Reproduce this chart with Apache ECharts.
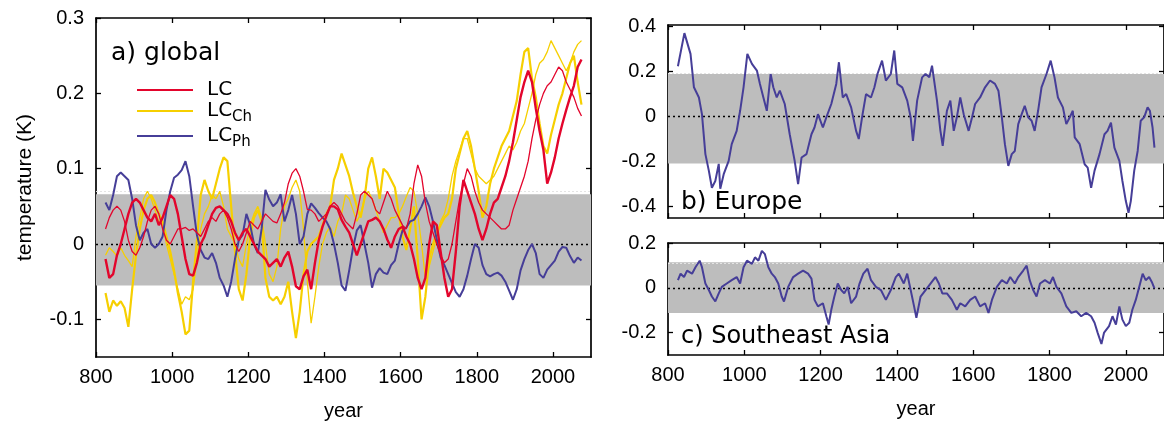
<!DOCTYPE html>
<html>
<head>
<meta charset="utf-8">
<script src="https://cdn.jsdelivr.net/npm/echarts@6/dist/echarts.min.js"></script>
<style>
  html, body { margin: 0; padding: 0; background: #fff; }
  #chart { width: 1164px; height: 426px; }
</style>
</head>
<body>
<div id="chart"></div>
<script>
// global panel: years (10-year steps)
const years = [
  825, 835, 845, 855, 865, 875, 885, 895, 905, 915,
  925, 935, 945, 955, 965, 975, 985, 995, 1005, 1015,
  1025, 1035, 1045, 1055, 1065, 1075, 1085, 1095, 1105, 1115,
  1125, 1135, 1145, 1155, 1165, 1175, 1185, 1195, 1205, 1215,
  1225, 1235, 1245, 1255, 1265, 1275, 1285, 1295, 1305, 1315,
  1325, 1335, 1345, 1355, 1365, 1375, 1385, 1395, 1405, 1415,
  1425, 1435, 1445, 1455, 1465, 1475, 1485, 1495, 1505, 1515,
  1525, 1535, 1545, 1555, 1565, 1575, 1585, 1595, 1605, 1615,
  1625, 1635, 1645, 1655, 1665, 1675, 1685, 1695, 1705, 1715,
  1725, 1735, 1745, 1755, 1765, 1775, 1785, 1795, 1805, 1815,
  1825, 1835, 1845, 1855, 1865, 1875, 1885, 1895, 1905, 1915,
  1925, 1935, 1945, 1955, 1965, 1975, 1985, 1995, 2005, 2015,
  2025, 2035, 2045, 2055, 2065, 2075
];

// LC, thick run
const lcA = [
  -0.02, -0.045, -0.04, -0.015, 0.0, 0.02, 0.04, 0.055, 0.06, 0.055,
  0.045, 0.035, 0.03, 0.04, 0.025, 0.035, 0.05, 0.065, 0.06, 0.04,
  0.01, -0.02, -0.04, -0.042, -0.025, 0.0, 0.01, 0.025, 0.04, 0.048,
  0.05, 0.045, 0.04, 0.03, 0.015, 0.005, 0.015, 0.02, 0.01, 0.0,
  -0.01, -0.015, -0.02, -0.03, -0.025, -0.02, -0.03, -0.018, -0.01, -0.03,
  -0.056, -0.06, -0.043, -0.034, -0.06, -0.025, 0.005, 0.023, 0.037, 0.05,
  0.05, 0.046, 0.032, 0.023, 0.015, 0.0, -0.015, 0.0, 0.015, 0.03,
  0.032, 0.035, 0.03, 0.02, 0.006, -0.005, 0.01, 0.02, 0.023, 0.01,
  0.0, -0.02, -0.045, -0.06, -0.045, 0.0, 0.03, 0.025, -0.01, -0.045,
  -0.07, -0.06, -0.01, 0.05, 0.085, 0.07, 0.055, 0.04, 0.02, 0.005,
  0.02, 0.04, 0.055, 0.06, 0.075, 0.09, 0.11, 0.135, 0.165, 0.195,
  0.215, 0.23, 0.215, 0.18, 0.15, 0.125, 0.08, 0.095, 0.115, 0.14,
  0.16, 0.178, 0.195, 0.21, 0.235, 0.245
];

// LC, thin run
const lcB = [
  0.02, 0.035, 0.045, 0.05, 0.045, 0.03, 0.005, -0.01, -0.015, -0.005,
  0.01, 0.03, 0.045, 0.05, 0.04, 0.02, 0.005, 0.0, 0.01, 0.02,
  0.02, 0.022, 0.018, 0.02, 0.015, 0.01, 0.02, 0.03, 0.035, 0.03,
  0.04, 0.045, 0.035, 0.02, 0.0, -0.01, 0.0, 0.015, 0.03, 0.025,
  0.02, 0.03, 0.04, 0.035, 0.03, 0.028, 0.04, 0.055, 0.08, 0.094,
  0.1, 0.09, 0.07, 0.046, 0.045, 0.04, 0.03, 0.035, 0.04, 0.05,
  0.055, 0.05, 0.04, 0.03, 0.025, 0.02, 0.04, 0.065, 0.07, 0.065,
  0.06, 0.045, 0.04, 0.055, 0.07, 0.06, 0.045, 0.035, 0.025, 0.02,
  0.04, 0.08, 0.105, 0.09, 0.055, 0.03, 0.015, 0.0, -0.015, -0.025,
  -0.02, 0.0, 0.03, 0.06, 0.08, 0.1, 0.09, 0.07, 0.055, 0.045,
  0.04, 0.035, 0.03, 0.025, 0.02, 0.02, 0.025, 0.045, 0.06, 0.075,
  0.09, 0.11, 0.14, 0.165, 0.185, 0.2, 0.21, 0.215, 0.225, 0.235,
  0.23, 0.215, 0.205, 0.195, 0.18, 0.17
];

// LC_Ch, thick run
const lcChA = [
  -0.065, -0.09, -0.075, -0.082, -0.076, -0.085, -0.11, -0.06, -0.015, 0.02,
  0.045, 0.06, 0.065, 0.055, 0.04, 0.03, 0.01, -0.01, -0.035, -0.065,
  -0.09, -0.12, -0.115, -0.05, 0.005, 0.065, 0.085, 0.07, 0.06, 0.08,
  0.1, 0.115, 0.11, 0.05, -0.01, -0.06, -0.075, -0.04, 0.01, 0.035,
  0.045, 0.03, -0.045, -0.07, -0.075, -0.07, -0.08, -0.07, -0.05, -0.09,
  -0.125, -0.09, -0.04, -0.01, 0.0, 0.005, 0.01, 0.025, 0.04, 0.05,
  0.085, 0.1, 0.12, 0.105, 0.09, 0.068, 0.05, 0.035, 0.06, 0.1,
  0.115, 0.09, 0.06, 0.1, 0.095, 0.085, 0.075, 0.04, 0.01, -0.008,
  0.02, 0.05, -0.02, -0.1, -0.07, -0.02, 0.0, 0.015, 0.025, 0.035,
  0.04, 0.06, 0.1, 0.12, 0.14, 0.15, 0.13, 0.1, 0.07, 0.035,
  0.05, 0.08, 0.1, 0.115, 0.13, 0.14, 0.15, 0.17, 0.19, 0.225,
  0.255, 0.26, 0.22, 0.195, 0.16, 0.13, 0.12, 0.145, 0.165, 0.185,
  0.2, 0.22, 0.24, 0.25, 0.215, 0.185
];

// LC_Ch, thin run
const lcChB = [
  -0.015, -0.005, -0.01, -0.016, -0.005, -0.015, -0.022, -0.03, 0.01, 0.035,
  0.06, 0.07, 0.06, 0.045, 0.03, 0.025, 0.0, -0.02, -0.04, -0.06,
  -0.08, -0.07, -0.074, -0.06, -0.02, 0.02, 0.04, 0.05, 0.065, 0.06,
  0.07, 0.05, 0.02, 0.01, 0.0, -0.02, -0.03, 0.0, 0.025, 0.04,
  0.05, 0.035, 0.0, -0.04, -0.05, -0.03, 0.02, 0.05, 0.06, 0.075,
  0.085, 0.07, 0.02, -0.05, -0.105, -0.07, -0.03, 0.0, 0.015, 0.023,
  0.01, 0.03, 0.04, 0.065, 0.06, 0.045, 0.03, 0.04, 0.06, 0.07,
  0.06, 0.045, 0.03, 0.015, 0.025, 0.035, 0.035, 0.04, 0.05, 0.063,
  0.075, 0.07, 0.04, 0.0, -0.045, -0.03, -0.01, 0.01, 0.03, 0.04,
  0.06, 0.09, 0.11, 0.125, 0.14, 0.14, 0.12, 0.1, 0.09, 0.085,
  0.08, 0.085, 0.09, 0.1, 0.11, 0.12, 0.13, 0.125, 0.135, 0.15,
  0.16, 0.18, 0.2, 0.225, 0.24, 0.245, 0.255, 0.27, 0.26, 0.25,
  0.24, 0.23, 0.24, 0.255, 0.265, 0.27
];

// LC_Ph
const lcPh = [
  0.055, 0.045, 0.065, 0.09, 0.095, 0.09, 0.085, 0.06, 0.025, 0.005,
  0.015, 0.02, 0.0, -0.005, 0.0, 0.01, 0.045, 0.07, 0.088, 0.092,
  0.098, 0.11, 0.09, 0.05, 0.012, -0.008, -0.018, -0.02, -0.012, -0.025,
  -0.045, -0.055, -0.07, -0.05, -0.02, 0.005, 0.012, 0.04, 0.025, 0.0,
  -0.012, 0.02, 0.072, 0.059, 0.05, 0.055, 0.066, 0.03, 0.045, 0.065,
  0.04, 0.0, 0.01, 0.04, 0.054, 0.048, 0.041, 0.035, 0.03, 0.02,
  0.0, -0.025, -0.055, -0.062, -0.035, -0.005, 0.018, 0.025, 0.0, -0.025,
  -0.058, -0.04, -0.032, -0.038, -0.04, -0.028, -0.022, 0.0, 0.018, 0.022,
  0.03, 0.032, 0.04, 0.05, 0.062, 0.05, 0.03, 0.006, -0.018, -0.028,
  -0.04, -0.052, -0.064, -0.07, -0.06, -0.042, -0.02, 0.0, -0.005, -0.028,
  -0.04, -0.043, -0.04, -0.038, -0.042, -0.05, -0.062, -0.074, -0.06, -0.035,
  -0.02, -0.008, 0.0, -0.012, -0.04, -0.045, -0.034, -0.028, -0.022, -0.01,
  -0.004, -0.005, -0.016, -0.025, -0.018, -0.022
];

// Europe
const eurYears = [
  826, 843, 859, 868, 881, 889, 898, 907, 915, 924, 933, 937, 946, 959, 967, 980, 989, 998,
  1008, 1020, 1033, 1041, 1050, 1059, 1069, 1076, 1085, 1093, 1106, 1119, 1132, 1141, 1150,
  1163, 1176, 1184, 1193, 1206, 1215, 1228, 1241, 1248, 1258, 1267, 1280, 1293, 1300, 1310,
  1319, 1332, 1341, 1349, 1361, 1371, 1384, 1393, 1401, 1414, 1427, 1436, 1442, 1453, 1466,
  1475, 1485, 1492, 1505, 1514, 1520, 1531, 1540, 1549, 1557, 1566, 1575, 1588, 1597, 1605,
  1618, 1631, 1644, 1657, 1666, 1675, 1683, 1692, 1701, 1709, 1718, 1727, 1735, 1744, 1753,
  1761, 1770, 1779, 1792, 1803, 1813, 1822, 1835, 1844, 1853, 1861, 1866, 1879, 1892, 1900,
  1909, 1918, 1931, 1944, 1952, 1961, 1970, 1983, 1991, 2000, 2007, 2013, 2022, 2031, 2039,
  2048, 2057, 2063, 2070, 2075
];
const eurTemp = [
  0.222, 0.369, 0.277, 0.129, 0.084, 0.01, -0.167, -0.24, -0.316, -0.286, -0.21, -0.32, -0.256, -0.197, -0.123, -0.064, 0.025, 0.129,
  0.277, 0.233, 0.203, 0.144, 0.084, 0.025, 0.188, 0.129, 0.084, 0.114, 0.055, -0.079, -0.197, -0.3, -0.182,
  -0.167, -0.079, -0.049, 0.01, -0.049, -0.004, 0.055, 0.144, 0.24, 0.084, 0.099, 0.04, -0.064, -0.1, 0.01,
  0.099, 0.084, 0.129, 0.188, 0.247, 0.159, 0.188, 0.292, 0.144, 0.129, 0.07, -0.004, -0.108, 0.07, 0.173,
  0.188, 0.173, 0.225, 0.07, -0.064, -0.13, 0.025, 0.07, -0.064, -0.004, 0.084, 0.01, -0.064, -0.004, 0.055,
  0.084, 0.129, 0.159, 0.144, 0.114, -0.004, -0.123, -0.219, -0.167, -0.153, -0.034, 0.01, 0.047, -0.004, -0.019,
  -0.064, 0.025, 0.129, 0.188, 0.247, 0.173, 0.084, 0.04, -0.034, -0.004, 0.025, -0.093, -0.123, -0.212, -0.227,
  -0.316, -0.24, -0.167, -0.079, -0.064, -0.027, -0.138, -0.197, -0.286, -0.375, -0.427, -0.375, -0.24, -0.153, -0.019,
  -0.004, 0.04, 0.025, -0.049, -0.138
];

// Southeast Asia
const seaYears = [
  826, 833, 842, 850, 863, 872, 883, 889, 898, 907, 915, 924, 933, 941, 954, 967, 980, 989, 998,
  1007, 1020, 1028, 1037, 1046, 1054, 1063, 1072, 1080, 1089, 1098, 1104, 1115, 1128, 1141, 1154,
  1167, 1176, 1184, 1193, 1206, 1215, 1221, 1228, 1236, 1245, 1254, 1262, 1271, 1280, 1293, 1302,
  1312, 1323, 1332, 1345, 1358, 1371, 1384, 1397, 1405, 1418, 1427, 1436, 1445, 1451, 1462, 1475,
  1488, 1501, 1510, 1519, 1531, 1544, 1557, 1566, 1579, 1592, 1605, 1618, 1631, 1640, 1649, 1662,
  1675, 1688, 1697, 1709, 1718, 1731, 1740, 1748, 1757, 1766, 1775, 1788, 1801, 1809, 1818, 1831,
  1844, 1857, 1870, 1883, 1896, 1909, 1918, 1926, 1936, 1943, 1956, 1965, 1974, 1983, 1991, 2000,
  2009, 2017, 2026, 2035, 2044, 2052, 2061, 2068, 2075
];
const seaTemp = [
  0.034, 0.063, 0.048, 0.077, 0.063, 0.092, 0.121, 0.092, 0.019, -0.01, -0.039, -0.061, -0.025, 0.004, 0.019, 0.034, 0.048, 0.019, 0.092,
  0.121, 0.107, 0.136, 0.121, 0.165, 0.15, 0.092, 0.063, 0.048, 0.019, -0.039, -0.061, 0.004, 0.048, 0.063, 0.077,
  0.063, 0.041, -0.054, -0.083, -0.069, -0.127, -0.164, -0.098, -0.039, 0.019, -0.01, -0.025, 0.004, -0.069, -0.039, 0.019,
  0.063, 0.085, 0.034, 0.004, -0.01, -0.054, -0.01, 0.048, 0.063, 0.019, 0.063, -0.01, -0.083, -0.134, -0.039, -0.01,
  0.019, 0.048, 0.019, -0.025, -0.025, -0.054, -0.098, -0.069, -0.083, -0.054, -0.039, -0.083, -0.069, -0.112, -0.054, 0.004,
  0.034, 0.019, 0.048, 0.019, 0.048, 0.077, 0.099, 0.034, -0.01, -0.039, 0.019, 0.034, 0.019, 0.048, 0.004, -0.025,
  -0.083, -0.112, -0.105, -0.127, -0.112, -0.127, -0.156, -0.2, -0.251, -0.2, -0.171, -0.127, -0.164, -0.083, -0.142, -0.171,
  -0.156, -0.098, -0.054, 0.004, 0.063, 0.034, 0.048, 0.026, -0.003
];

// tick labels
const yearTicks = [800, 1000, 1200, 1400, 1600, 1800, 2000];
const globalTicks = [-0.1, 0, 0.1, 0.2, 0.3];
const europeTicks = [-0.4, -0.2, 0, 0.2, 0.4];
const seaTicks = [-0.2, 0, 0.2];

const RED = '#e3052c', YELLOW = '#f6cf00', BLUE = '#463e98', BAND = '#bdbdbd';
const TICK_FONT = 'Liberation Sans';
const TEXT_FONT = 'DejaVu Sans';

const pairs = (xs, ys) => xs.map((x, i) => [x, ys[i]]);
const plain = v => String(v);

// 灰色区间 + 零线
function band(top, bottom) {
  return {
    markArea: {
      silent: true, z: 0.5,
      itemStyle: { color: BAND },
      data: [[{ yAxis: top }, { yAxis: bottom }]]
    },
    markLine: {
      silent: true, z: 1, symbol: 'none', animation: false,
      label: { show: false },
      data: [
        { yAxis: 0, lineStyle: { color: '#000', type: [2, 3], width: 1.4 } },
        { yAxis: top, lineStyle: { color: '#e4e4e4', type: [2, 2], width: 1 } }
      ]
    }
  };
}

const lineAxis = { onZero: false, lineStyle: { color: '#000', width: 1.7 } };
const tickStyle = { color: '#000', width: 1.3 };

function xAxes(grid, labels) {
  return [
    {
      type: 'value', gridIndex: grid, position: 'bottom', min: 800, max: 2100,
      axisLine: lineAxis,
      axisTick: { inside: true, length: 5, customValues: yearTicks, lineStyle: tickStyle },
      axisLabel: { show: labels, customValues: yearTicks, formatter: plain, color: '#000', fontSize: 20, fontFamily: TICK_FONT, margin: 10 },
      splitLine: { show: false },
      name: labels ? 'year' : '', nameLocation: 'middle', nameGap: 44,
      nameTextStyle: { color: '#000', fontSize: 20, fontFamily: TICK_FONT }
    },
    {
      type: 'value', gridIndex: grid, position: 'top', min: 800, max: 2100,
      axisLine: lineAxis,
      axisTick: { inside: true, length: 5, customValues: yearTicks, lineStyle: tickStyle },
      axisLabel: { show: false }, splitLine: { show: false }
    }
  ];
}

function yAxes(grid, min, max, ticks, name) {
  return [
    {
      type: 'value', gridIndex: grid, position: 'left', min: min, max: max,
      axisLine: lineAxis,
      axisTick: { inside: true, length: 5, customValues: ticks, lineStyle: tickStyle },
      axisLabel: { customValues: ticks, formatter: plain, color: '#000', fontSize: 20, fontFamily: TICK_FONT, margin: 12 },
      splitLine: { show: false },
      name: name || '', nameLocation: 'middle', nameRotate: 90, nameGap: 60,
      nameTextStyle: { color: '#000', fontSize: 21, fontFamily: TICK_FONT }
    },
    {
      type: 'value', gridIndex: grid, position: 'right', min: min, max: max,
      axisLine: lineAxis,
      axisTick: { inside: true, length: 5, customValues: ticks, lineStyle: tickStyle },
      axisLabel: { show: false }, splitLine: { show: false }
    }
  ];
}

function line(name, xs, ys, color, width, xi, yi, extra) {
  return Object.assign({
    name: name, type: 'line', xAxisIndex: xi, yAxisIndex: yi,
    data: pairs(xs, ys), symbol: 'none', animation: false, silent: true,
    lineStyle: { color: color, width: width }, itemStyle: { color: color }
  }, extra || {});
}

const chart = echarts.init(document.getElementById('chart'), null, { renderer: 'canvas' });

const option = {
  backgroundColor: '#fff',
  animation: false,
  grid: [
    { left: 96, top: 18, width: 495, height: 339 },
    { left: 668, top: 25, width: 499, height: 193 },
    { left: 668, top: 243, width: 499, height: 112 }
  ],
  xAxis: [].concat(xAxes(0, true), xAxes(1, false), xAxes(2, true)),
  yAxis: [].concat(
    yAxes(0, -0.15, 0.3, globalTicks, 'temperature (K)'),
    yAxes(1, -0.45, 0.405, europeTicks),
    yAxes(2, -0.3, 0.2, seaTicks)
  ),
  title: [
    { text: 'a) global', left: 111, top: 41, padding: 0, textStyle: { fontSize: 25, fontWeight: 'normal', fontFamily: TEXT_FONT, color: '#000' } },
    { text: 'b) Europe', left: 681, top: 190, padding: 0, textStyle: { fontSize: 25, fontWeight: 'normal', fontFamily: TEXT_FONT, color: '#000' } },
    { text: 'c) Southeast Asia', left: 681, top: 325, padding: 0, textStyle: { fontSize: 24, fontWeight: 'normal', fontFamily: TEXT_FONT, color: '#000' } }
  ],
  legend: {
    data: [
      { name: 'LC', icon: 'rect' },
      { name: 'LCCh', icon: 'rect' },
      { name: 'LCPh', icon: 'rect' }
    ],
    orient: 'vertical', left: 137, top: 80, padding: 0,
    itemWidth: 56, itemHeight: 2, itemGap: 1,
    selectedMode: false,
    formatter: function (n) {
      if (n === 'LCCh') return '{m|LC}{s|Ch}';
      if (n === 'LCPh') return '{m|LC}{s|Ph}';
      return '{m|LC}';
    },
    textStyle: {
      rich: {
        m: { fontSize: 20, fontFamily: TEXT_FONT, color: '#000', padding: [0, 0, 0, 9] },
        s: { fontSize: 15, fontFamily: TEXT_FONT, color: '#000', padding: [13, 0, 0, 0] }
      }
    }
  },
  series: [
    line('LCCh', years, lcChA, YELLOW, 2.2, 0, 0, band(0.066, -0.055)),
    line('LCCh', years, lcChB, YELLOW, 1.3, 0, 0),
    line('LCPh', years, lcPh, BLUE, 2, 0, 0),
    line('LC', years, lcB, RED, 1.3, 0, 0),
    line('LC', years, lcA, RED, 2.4, 0, 0),
    line('Europe', eurYears, eurTemp, BLUE, 2, 2, 2, band(0.188, -0.209)),
    line('Southeast Asia', seaYears, seaTemp, BLUE, 2, 4, 4, band(0.114, -0.112))
  ]
};

chart.setOption(option);
</script>
</body>
</html>
